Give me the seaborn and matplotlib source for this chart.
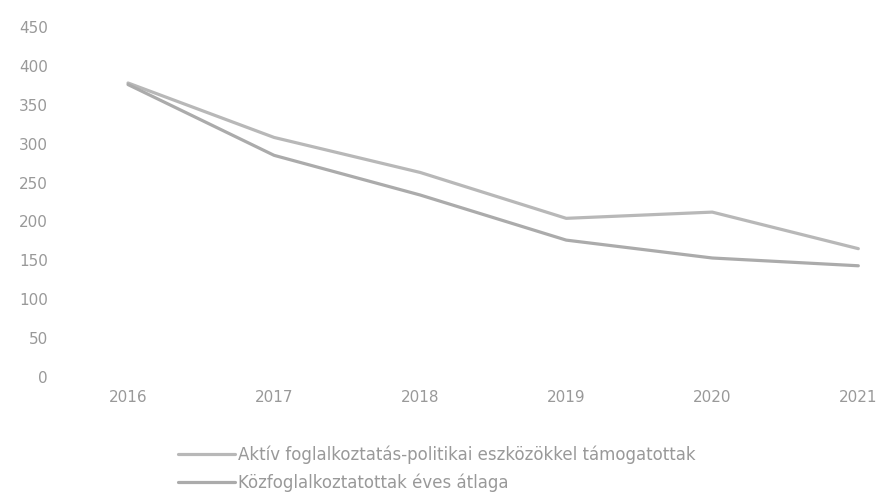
import pandas as pd
import matplotlib
matplotlib.use("Agg")
import matplotlib.pyplot as plt
import seaborn as sns

# Adatok (ezer fő)
years = ["2016", "2017", "2018", "2019", "2020", "2021"]
aktiv = [378, 308, 263, 204, 212, 165]
kozfogl = [376, 285, 234, 176, 153, 143]
series_names = [
    "Aktív foglalkoztatás-politikai eszközökkel támogatottak",
    "Közfoglalkoztatottak éves átlaga",
]

df = pd.DataFrame({
    "ev": list(range(len(years))) * 2,
    "ertek": aktiv + kozfogl,
    "sorozat": [series_names[0]] * len(years) + [series_names[1]] * len(years),
})

sns.set_style("white")
plt.rcParams["font.family"] = ["DejaVu Sans"]

fig = plt.figure(figsize=(8.77, 4.98), dpi=100)
ax = fig.add_axes([55 / 877, (498 - 377) / 498, (870 - 55) / 877, (377 - 27) / 498])

sns.lineplot(
    data=df, x="ev", y="ertek", hue="sorozat",
    palette=["#b8b8b8", "#ababab"], linewidth=2.3, ax=ax, legend=False,
)

ax.set_xlim(-0.5, 5.08)
ax.set_ylim(0, 450)
ax.set_yticks(range(0, 451, 50))
ax.set_xticks(range(len(years)))
ax.set_xticklabels(years)
ax.set_xlabel("")
ax.set_ylabel("")
ax.tick_params(axis="both", length=0, labelsize=11, colors="#999999")
ax.tick_params(axis="y", pad=5)
ax.tick_params(axis="x", pad=9)
for s in ax.spines.values():
    s.set_visible(False)

handles = ax.get_lines()[:2]
fig.legend(
    handles, series_names,
    loc="upper left", bbox_to_anchor=(178 / 877, 53 / 498),
    frameon=False, fontsize=12, labelcolor="#999999",
    handlelength=3.4, handletextpad=0.2, labelspacing=0.6,
    borderpad=0, borderaxespad=0,
)

fig.savefig("out.png", dpi=100)
